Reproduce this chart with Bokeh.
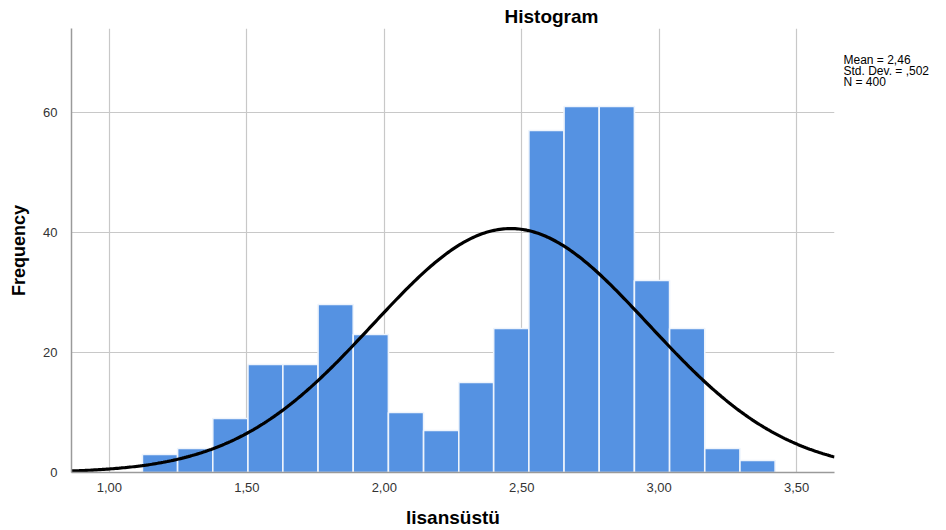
import numpy as np
from bokeh.plotting import figure
from bokeh.models import Range1d, FixedTicker, ColumnDataSource
from bokeh.layouts import row
from bokeh.core.properties import value
from bokeh.embed import file_html
from bokeh.resources import INLINE

# ---- data ----
bin_edges = [1.120, 1.248, 1.376, 1.504, 1.631, 1.759, 1.887, 2.015, 2.143, 2.271,
             2.398, 2.526, 2.654, 2.782, 2.910, 3.038, 3.166, 3.294, 3.422]
counts = [3, 4, 9, 18, 18, 28, 23, 10, 7, 15, 24, 57, 61, 61, 32, 24, 4, 2]
mean_val = 2.46
sd_val = 0.502
n_val = 400
x_ticks = [1.0, 1.5, 2.0, 2.5, 3.0, 3.5]
x_tick_labels = ["1,00", "1,50", "2,00", "2,50", "3,00", "3,50"]
y_ticks = [0, 20, 40, 60]
stats_lines = ["Mean = 2,46", "Std. Dev. = ,502", "N = 400"]
title_text = "Histogram"
x_label = "lisansüstü"
y_label = "Frequency"

FONT = "Liberation Sans"

x_lo, x_hi = 0.862, 3.638
p = figure(width=836, height=530, output_backend="svg", toolbar_location=None,
           x_range=Range1d(x_lo, x_hi), y_range=Range1d(0, 74),
           min_border_left=71, min_border_right=2, min_border_top=28, min_border_bottom=56)
p.outline_line_color = None
p.background_fill_color = "white"
p.border_fill_color = "white"

# title
p.title.text = title_text
p.title.text_font = FONT
p.title.text_font_size = "19px"
p.title.text_font_style = "bold"
p.title.text_color = "black"
p.title.align = "left"
p.title.offset = 433
p.title.standoff = 3

src = ColumnDataSource(dict(left=bin_edges[:-1], right=bin_edges[1:], top=counts,
                            bottom=[0] * len(counts)))
p.quad(left="left", right="right", top="top", bottom="bottom", source=src,
       fill_color="#5592e2", line_color="#eef4fc", line_width=1.6)

# fitted normal curve from the stated mean, sd and N
bw = (bin_edges[-1] - bin_edges[0]) / len(counts)
xs = np.linspace(x_lo, x_hi, 400)
ys = n_val * bw / (sd_val * np.sqrt(2 * np.pi)) * np.exp(-0.5 * ((xs - mean_val) / sd_val) ** 2)
p.line(xs, ys, line_color="black", line_width=3.2)

# axes
p.xaxis.ticker = FixedTicker(ticks=x_ticks)
p.xaxis.major_label_overrides = {t: l for t, l in zip(x_ticks, x_tick_labels)}
p.yaxis.ticker = FixedTicker(ticks=y_ticks)
for ax in (p.xaxis, p.yaxis):
    ax.major_tick_line_color = None
    ax.minor_tick_line_color = None
    ax.axis_line_color = "#9a9a9a"
    ax.axis_line_width = 1.5
    ax.major_label_text_font = FONT
    ax.major_label_text_font_size = "13px"
    ax.major_label_text_color = "#333333"
    ax.axis_label_text_font = FONT
    ax.axis_label_text_font_style = "bold"
    ax.axis_label_text_color = "black"
p.xaxis.axis_label = x_label
p.yaxis.axis_label = y_label
p.xaxis.axis_label_text_font_size = "19px"
p.yaxis.axis_label_text_font_size = "18px"
p.xaxis.major_label_standoff = 4
p.xaxis.axis_label_standoff = 12
p.yaxis.major_label_standoff = 8
p.yaxis.axis_label_standoff = 11

p.xgrid.ticker = FixedTicker(ticks=x_ticks)
p.ygrid.ticker = FixedTicker(ticks=y_ticks)
p.xgrid.grid_line_color = "#c8c8c8"
p.ygrid.grid_line_color = "#c8c8c8"
p.xgrid.grid_line_width = 1.2
p.ygrid.grid_line_width = 1.2

# side panel holding the statistics text; its frame is aligned with the main
# frame (rows 28..474), so the y range maps straight to page pixels
p2 = figure(width=110, height=530, output_backend="svg", toolbar_location=None,
            x_range=Range1d(0, 110), y_range=Range1d(474, 28),
            min_border=0)
p2.axis.visible = False
p2.grid.visible = False
p2.outline_line_color = None
p2.border_fill_color = "white"
p2.background_fill_color = "white"
stats_src = ColumnDataSource(dict(x=[7] * len(stats_lines),
                                  y=[59.5 + 11.3 * i for i in range(len(stats_lines))],
                                  text=stats_lines))
p2.text(x="x", y="y", text="text", source=stats_src, text_font=value(FONT),
        text_font_size="12px", text_align="left", text_baseline="middle", text_color="black")

layout = row(p, p2)
open("out.html", "w").write(file_html(layout, INLINE))
